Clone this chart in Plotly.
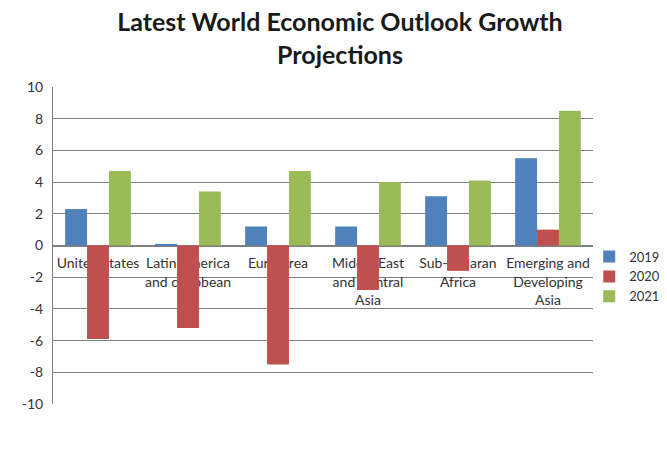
import plotly.graph_objects as go

categories = ["United States", "Latin America and caribbean", "Euro Area",
              "Middle East and Central Asia", "Sub-Saharan Africa",
              "Emerging and Developing Asia"]
tick_labels = ["United States", "Latin America<br>and caribbean", "Euro Area",
               "Middle East<br>and Central<br>Asia", "Sub-Saharan<br>Africa",
               "Emerging and<br>Developing<br>Asia"]
y_ticks = [-10, -8, -6, -4, -2, 0, 2, 4, 6, 8, 10]
g2019 = [2.3, 0.1, 1.2, 1.2, 3.1, 5.5]
g2020 = [-5.9, -5.2, -7.5, -2.8, -1.6, 1.0]
g2021 = [4.7, 3.4, 4.7, 4.0, 4.1, 8.5]
series = [("2019", g2019, "#4F81BD"), ("2020", g2020, "#C0504D"), ("2021", g2021, "#9BBB59")]

fig = go.Figure()
for name, vals, color in series:
    fig.add_trace(go.Bar(x=categories, y=vals, name=name, marker_color=color,
                         marker_line_width=0))

grid = "#7f7f7f"
font = "Lato, Carlito, sans-serif"
fig.update_layout(
    width=651, height=456,
    margin=dict(l=45, r=66, t=79, b=60, autoexpand=False),
    paper_bgcolor="white", plot_bgcolor="white",
    barmode="group", bargap=0.27, bargroupgap=0,
    font=dict(family=font, size=14, color="#333333"),
    title=dict(text="<b>Latest World Economic Outlook Growth<br>Projections</b>",
               x=0.51, xref="container", xanchor="center",
               y=0.949, yref="container", yanchor="top",
               font=dict(family=font, size=25, color="#1a1a1a")),
    legend=dict(x=0.993, xanchor="left", y=0.402, yanchor="middle",
                xref="paper", font=dict(size=13, color="#333333"),
                itemwidth=30, tracegroupgap=0, bgcolor="rgba(0,0,0,0)"),
    xaxis=dict(type="category", tickvals=categories, ticktext=tick_labels,
               anchor="free", position=0.5, layer="below traces",
               tickangle=0, automargin=False, ticklabelstandoff=5,
               showgrid=False, showline=True, linecolor=grid, linewidth=1,
               ticks="", tickfont=dict(size=14, color="#333333")),
    yaxis=dict(range=[-10, 10], tickvals=y_ticks, ticktext=[str(v) for v in y_ticks],
               automargin=False,
               showgrid=True, gridcolor=grid, gridwidth=1,
               zeroline=True, zerolinecolor=grid, zerolinewidth=1,
               showline=True, linecolor=grid, linewidth=1,
               ticks="", ticklabelstandoff=6, tickfont=dict(size=14, color="#333333")),
)
fig.write_html("out.html")
